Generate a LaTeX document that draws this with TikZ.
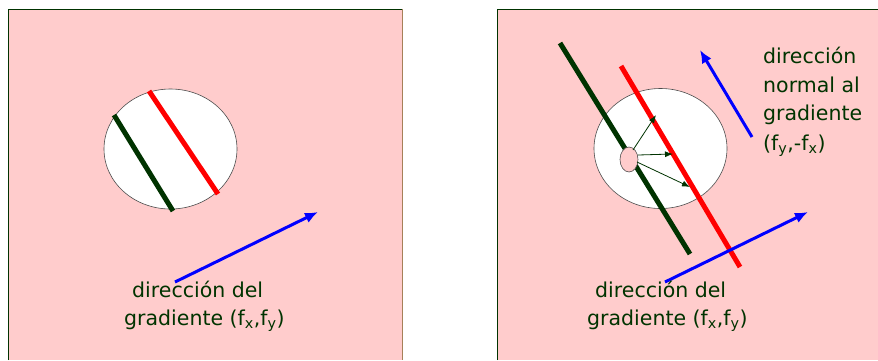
\documentclass[tikz,border=0pt]{standalone}
\usepackage{fontspec}
\setmainfont{DejaVu Sans}
\usetikzlibrary{arrows.meta}
\definecolor{fondo}{RGB}{255,204,204}
\definecolor{verde}{RGB}{0,51,0}

\begin{document}
\begin{tikzpicture}[x=1pt,y=-1pt,
    texto/.style={anchor=base west,inner sep=0pt,text=verde,font=\fontsize{20.5}{28.5}\selectfont},
    borde/.style={verde,line width=1pt},
    disco/.style={fill=white,draw=black!70,line width=0.6pt},
    trazo/.style={line width=5pt},
    flecha/.style={blue,line width=3pt,-{Latex[length=13pt,width=11pt]}},
    radio/.style={verde,line width=0.8pt,-{Latex[length=8pt,width=6pt]}}]
    \useasboundingbox (0,0) rectangle (878,360);
    \fill[fondo] (8,9) rectangle (402,360);
    \fill[fondo] (497,9) rectangle (878,360);
    \draw[borde] (8,360) -- (8,9) -- (402,9);
    \draw[brown!60!gray,line width=0.6pt] (402,9) -- (402,360);
    \draw[borde] (497,360) -- (497,9) -- (878,9);

    \draw[disco] (170.5,149) ellipse [x radius=66.5,y radius=60];
    \draw[trazo,verde] (114,115) -- (173,211);
    \draw[trazo,red] (149,91) -- (218,194);
    \coordinate (g1) at (175,282);
    \coordinate (g2) at (318,212);
    \draw[flecha] (g1) -- (g2);
    \node[texto] (t1) at (132,297) {dirección del};
    \node[texto] (t2) at (124,325) {gradiente (f\textsubscript{x},f\textsubscript{y})};

    \draw[disco] (660.5,148.5) ellipse [x radius=66.5,y radius=60];
    \draw[trazo,verde] (560,43) -- (690,254);
    \draw[trazo,red] (621,66) -- (740,267);
    \draw[disco,fill=fondo] (629,159.5) ellipse [x radius=9,y radius=12.5];
    \coordinate (p1) at (656,115);
    \coordinate (p2) at (673,154);
    \coordinate (p3) at (690,187);
    \draw[radio] (633,150) -- (p1);
    \draw[radio] (638,155) -- (p2);
    \draw[radio] (637,162) -- (p3);
    \coordinate (n1) at (752,137);
    \coordinate (n2) at (700,50);
    \draw[flecha] (n1) -- (n2);
    \coordinate (h1) at (665,282);
    \coordinate (h2) at (808,212);
    \draw[flecha] (h1) -- (h2);
    \node[texto] (t3) at (595,297) {dirección del};
    \node[texto] (t4) at (587,325) {gradiente (f\textsubscript{x},f\textsubscript{y})};
    \node[texto] (s1) at (763,63) {dirección};
    \node[texto] (s2) at (763,92) {normal al};
    \node[texto] (s3) at (763,120) {gradiente};
    \node[texto] (s4) at (763,150) {(f\textsubscript{y},-f\textsubscript{x})};
\end{tikzpicture}
\end{document}
